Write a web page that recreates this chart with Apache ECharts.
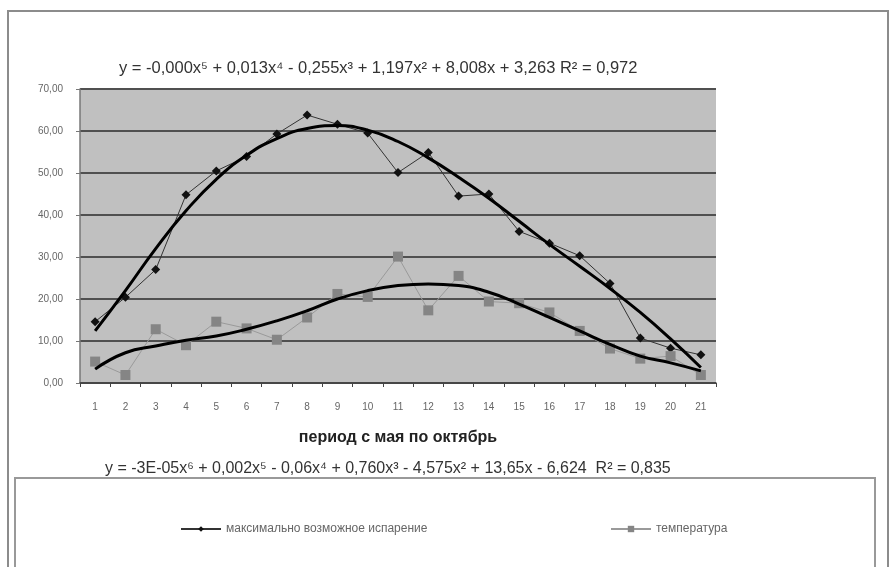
<!DOCTYPE html>
<html>
<head>
<meta charset="utf-8">
<script src="https://cdn.jsdelivr.net/npm/echarts@6/dist/echarts.min.js"></script>
<style>
  html, body { margin: 0; padding: 0; background: #fff; }
  #chart { width: 891px; height: 567px; }
</style>
</head>
<body>
<div id="chart"></div>
<script>
// periods 1..21, May to October
const categories = ["1", "2", "3", "4", "5", "6", "7", "8", "9", "10", "11", "12", "13", "14", "15", "16", "17", "18", "19", "20", "21"];

// max possible evaporation (black diamonds)
const evaporation = [14.6, 20.4, 27.0, 44.8, 50.5, 53.9, 59.3, 63.8, 61.6, 59.5, 50.1, 54.9, 44.5, 45.0, 36.1, 33.3, 30.3, 23.7, 10.7, 8.3, 6.7];
// temperature (grey squares)
const temperature = [5.1, 1.9, 12.8, 9.0, 14.6, 13.0, 10.3, 15.6, 21.2, 20.5, 30.1, 17.3, 25.5, 19.4, 19.0, 16.8, 12.4, 8.2, 5.8, 6.4, 1.9];

// polynomial trend lines
const evaporationTrend = [12.4, 22.0, 32.0, 41.0, 48.5, 54.2, 58.2, 60.6, 61.3, 60.2, 57.5, 53.6, 49.0, 44.0, 38.5, 33.0, 27.8, 22.5, 16.8, 10.5, 3.7];
const temperatureTrend = [3.3, 7.2, 8.8, 10.2, 11.2, 12.8, 14.8, 17.2, 20.0, 22.0, 23.2, 23.6, 23.2, 21.6, 18.8, 15.6, 12.4, 9.2, 6.4, 4.8, 2.9];

const eqTop = "y = -0,000x⁵ + 0,013x⁴ - 0,255x³ + 1,197x² + 8,008x + 3,263 R² = 0,972";
const eqBottom = "y = -3E-05x⁶ + 0,002x⁵ - 0,06x⁴ + 0,760x³ - 4,575x² + 13,65x - 6,624  R² = 0,835";
const xName = "период с мая по октябрь";
const nameEvap = "максимально возможное испарение";
const nameTemp = "температура";

const chart = echarts.init(document.getElementById("chart"), null, { renderer: "canvas" });

chart.setOption({
  animation: false,
  backgroundColor: "#fff",
  textStyle: { fontFamily: "Liberation Sans, Arial, sans-serif" },
  title: [
    {
      text: eqTop,
      left: 114,
      top: 55,
      textStyle: { fontSize: 16.5, fontWeight: "normal", color: "#333" }
    },
    {
      text: eqBottom,
      left: 100,
      top: 456,
      textStyle: { fontSize: 16, fontWeight: "normal", color: "#333" }
    }
  ],
  legend: [
    {
      data: [nameEvap],
      left: 175,
      top: 518,
      itemWidth: 40,
      itemHeight: 7,
      textStyle: { fontSize: 12, color: "#666" }
    },
    {
      data: [nameTemp],
      left: 605,
      top: 518,
      itemWidth: 40,
      itemHeight: 8,
      textStyle: { fontSize: 12, color: "#666" }
    }
  ],
  graphic: [
    {
      type: "rect",
      shape: { x: 8, y: 11, width: 880, height: 600 },
      style: { fill: null, stroke: "#8c8c8c", lineWidth: 2 },
      silent: true
    },
    {
      type: "rect",
      shape: { x: 15, y: 478, width: 860, height: 120 },
      style: { fill: null, stroke: "#999", lineWidth: 2 },
      silent: true
    }
  ],
  grid: {
    left: 80,
    right: 175,
    top: 89,
    bottom: 184,
    show: true,
    backgroundColor: "#c0c0c0",
    borderWidth: 0
  },
  xAxis: {
    type: "category",
    data: categories,
    boundaryGap: true,
    name: xName,
    nameLocation: "middle",
    nameGap: 47,
    nameTextStyle: { fontSize: 16, fontWeight: "bold", color: "#222" },
    axisLine: { lineStyle: { color: "#444", width: 1.5 } },
    axisTick: { show: true, length: 4, lineStyle: { color: "#444" } },
    axisLabel: { fontSize: 10, color: "#666", margin: 19 },
    splitLine: { show: false }
  },
  yAxis: {
    type: "value",
    min: 0,
    max: 70,
    interval: 10,
    axisLine: { show: true, lineStyle: { color: "#777", width: 1.5 } },
    axisTick: { show: true, length: 4, lineStyle: { color: "#777" } },
    axisLabel: {
      fontSize: 10,
      color: "#666",
      margin: 17,
      formatter: v => v.toFixed(2).replace(".", ",")
    },
    splitLine: { show: true, lineStyle: { color: "#505050", width: 1.8 } }
  },
  series: [
    {
      name: nameEvap,
      type: "line",
      data: evaporation,
      symbol: "diamond",
      symbolSize: 9,
      itemStyle: { color: "#111" },
      lineStyle: { color: "#333", width: 1 },
      z: 3
    },
    {
      name: nameTemp,
      type: "line",
      data: temperature,
      symbol: "rect",
      symbolSize: 10,
      itemStyle: { color: "#858585" },
      lineStyle: { color: "#9a9a9a", width: 1 },
      z: 3
    },
    {
      name: "trend evaporation",
      type: "line",
      data: evaporationTrend,
      smooth: true,
      showSymbol: false,
      lineStyle: { color: "#000", width: 3 },
      z: 4
    },
    {
      name: "trend temperature",
      type: "line",
      data: temperatureTrend,
      smooth: true,
      showSymbol: false,
      lineStyle: { color: "#000", width: 3 },
      z: 4
    }
  ]
});
</script>
</body>
</html>
